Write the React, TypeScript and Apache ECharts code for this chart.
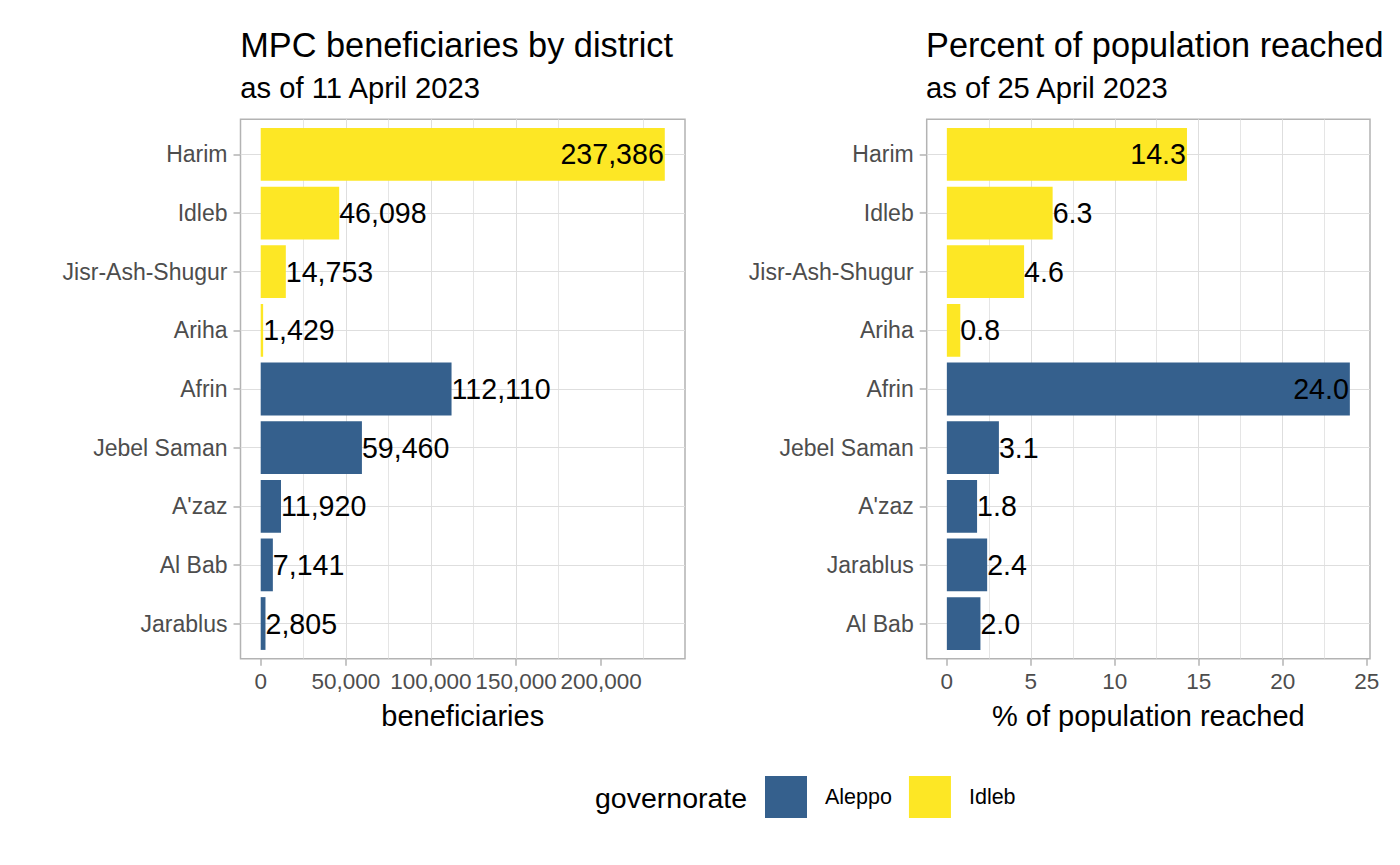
import React, { useEffect, useRef } from 'react';
import * as echarts from 'echarts';

// ---------- data ----------
const benCategories = ['Harim', 'Idleb', 'Jisr-Ash-Shugur', 'Ariha', 'Afrin', 'Jebel Saman', "A'zaz", 'Al Bab', 'Jarablus'];
const benValues = [237386, 46098, 14753, 1429, 112110, 59460, 11920, 7141, 2805];
const benGovernorate = ['Idleb', 'Idleb', 'Idleb', 'Idleb', 'Aleppo', 'Aleppo', 'Aleppo', 'Aleppo', 'Aleppo'];
const benTicks = [0, 50000, 100000, 150000, 200000];

const pctCategories = ['Harim', 'Idleb', 'Jisr-Ash-Shugur', 'Ariha', 'Afrin', 'Jebel Saman', "A'zaz", 'Jarablus', 'Al Bab'];
const pctValues = [14.3, 6.3, 4.6, 0.8, 24.0, 3.1, 1.8, 2.4, 2.0];
const pctGovernorate = ['Idleb', 'Idleb', 'Idleb', 'Idleb', 'Aleppo', 'Aleppo', 'Aleppo', 'Aleppo', 'Aleppo'];
const pctTicks = [0, 5, 10, 15, 20, 25];

const governorates = ['Aleppo', 'Idleb'];
const govColors: Record<string, string> = { Aleppo: '#35608D', Idleb: '#FDE725' };

const FONT = '"Liberation Sans", Arial, Helvetica, sans-serif';
const BORDER = '#B3B3B3';
const GRID = '#DEDEDE';
const AXIS_TEXT = '#4D4D4D';

type Rect = { left: number; top: number; width: number; height: number };

function buildPanel(
  idx: number,
  cats: string[],
  values: number[],
  govs: string[],
  ticks: number[],
  step: number,
  fmtTick: (v: number) => string,
  fmtLabel: (v: number) => string,
  axisName: string,
  rect: Rect
) {
  const max = Math.max(...values);
  const xMin = -0.05 * max;
  const xMax = 1.05 * max;
  const n = cats.length;
  const unit = rect.height / (n - 1 + 1.2);

  const grids = [
    { left: rect.left, top: rect.top, width: rect.width, height: rect.height, show: true, borderColor: BORDER, borderWidth: 1.5, backgroundColor: 'transparent' },
    { left: rect.left, top: rect.top + 0.1 * unit, width: rect.width, height: n * unit, show: false },
  ];

  const xAxes = [
    {
      type: 'value', gridIndex: 2 * idx, position: 'bottom', min: xMin, max: xMax, minInterval: step, maxInterval: step,
      axisLine: { show: false, onZero: false },
      axisTick: { show: true, length: 7, lineStyle: { color: BORDER, width: 1.5 }, customValues: ticks },
      axisLabel: { customValues: ticks, formatter: (v: number) => fmtTick(v), color: AXIS_TEXT, fontSize: 22.5, fontFamily: FONT, margin: 11 },
      splitLine: { show: true, showMinLine: false, showMaxLine: false, lineStyle: { color: GRID, width: 1 } },
      minorTick: { show: false, splitNumber: 2 },
      minorSplitLine: { show: true, lineStyle: { color: GRID, width: 0.8 } },
      name: axisName, nameLocation: 'middle', nameGap: 43,
      nameTextStyle: { color: '#000', fontSize: 29, fontFamily: FONT },
    },
    { type: 'value', gridIndex: 2 * idx + 1, position: 'bottom', min: xMin, max: xMax, show: false, axisLine: { onZero: false } },
  ];

  const yAxes = [
    {
      type: 'value', gridIndex: 2 * idx, position: 'left', min: -0.6, max: n - 1 + 0.6, inverse: true, minInterval: 1, maxInterval: 1,
      axisLine: { show: false, onZero: false }, axisTick: { show: false }, axisLabel: { show: false },
      splitLine: { show: true, showMinLine: false, showMaxLine: false, lineStyle: { color: GRID, width: 1 } },
    },
    {
      type: 'category', gridIndex: 2 * idx + 1, position: 'left', data: cats, inverse: true,
      axisLine: { show: false, onZero: false },
      axisTick: { show: true, alignWithLabel: true, length: 7, lineStyle: { color: BORDER, width: 1.5 } },
      axisLabel: { color: AXIS_TEXT, fontSize: 23, fontFamily: FONT, margin: 13 },
      splitLine: { show: false },
    },
  ];

  const series = governorates.map((g) => ({
    type: 'bar',
    name: g,
    xAxisIndex: 2 * idx + 1,
    yAxisIndex: 2 * idx + 1,
    barWidth: '90%',
    barGap: '-100%',
    itemStyle: { color: govColors[g] },
    label: {
      show: true, position: 'right', distance: 0, color: '#000', fontSize: 28.6, fontFamily: FONT,
      formatter: (p: any) => fmtLabel(p.value),
    },
    data: values.map((v, k) =>
      govs[k] === g
        ? (v > 0.5 * max ? { value: v, label: { position: 'insideRight', distance: 1 } } : { value: v })
        : '-'
    ),
  }));

  return { grids, xAxes, yAxes, series };
}

export default function App() {
  const ref = useRef<HTMLDivElement>(null);

  useEffect(() => {
    if (!ref.current) return;
    const chart = echarts.init(ref.current, undefined, { renderer: 'svg' });

    const left = buildPanel(0, benCategories, benValues, benGovernorate, benTicks, 50000,
      (v) => v.toLocaleString('en-US'), (v) => v.toLocaleString('en-US'), 'beneficiaries',
      { left: 240.5, top: 119.3, width: 444.5, height: 539.4 });
    const right = buildPanel(1, pctCategories, pctValues, pctGovernorate, pctTicks, 5,
      (v) => String(v), (v) => v.toFixed(1), '% of population reached',
      { left: 926.7, top: 119.3, width: 443.3, height: 539.4 });

    const text = (t: string, x: number, y: number, size: number) => ({
      type: 'text', x, y,
      style: { text: t, fontSize: size, fontFamily: FONT, fill: '#000', align: 'left', verticalAlign: 'middle' },
    });

    chart.setOption({
      animation: false,
      backgroundColor: '#fff',
      grid: [...left.grids, ...right.grids],
      xAxis: [...left.xAxes, ...right.xAxes],
      yAxis: [...left.yAxes, ...right.yAxes],
      series: [...left.series, ...right.series],
      legend: {
        data: governorates, left: 765, top: 776, orient: 'horizontal', icon: 'rect',
        itemWidth: 42, itemHeight: 42, itemGap: 17, padding: 0, selectedMode: false,
        textStyle: { fontSize: 21.5, color: '#000', fontFamily: FONT, padding: [0, 0, 0, 13] },
      },
      graphic: [
        text('MPC beneficiaries by district', 240.3, 44.7, 34.3),
        text('as of 11 April 2023', 240.3, 87.5, 29.2),
        text('Percent of population reached', 926, 44.7, 34.3),
        text('as of 25 April 2023', 926, 87.5, 29.2),
        text('governorate', 595, 797.5, 28.5),
      ],
    });

    return () => chart.dispose();
  }, []);

  return <div ref={ref} style={{ position: 'absolute', left: 0, top: 0, width: 1400, height: 865 }} />;
}
